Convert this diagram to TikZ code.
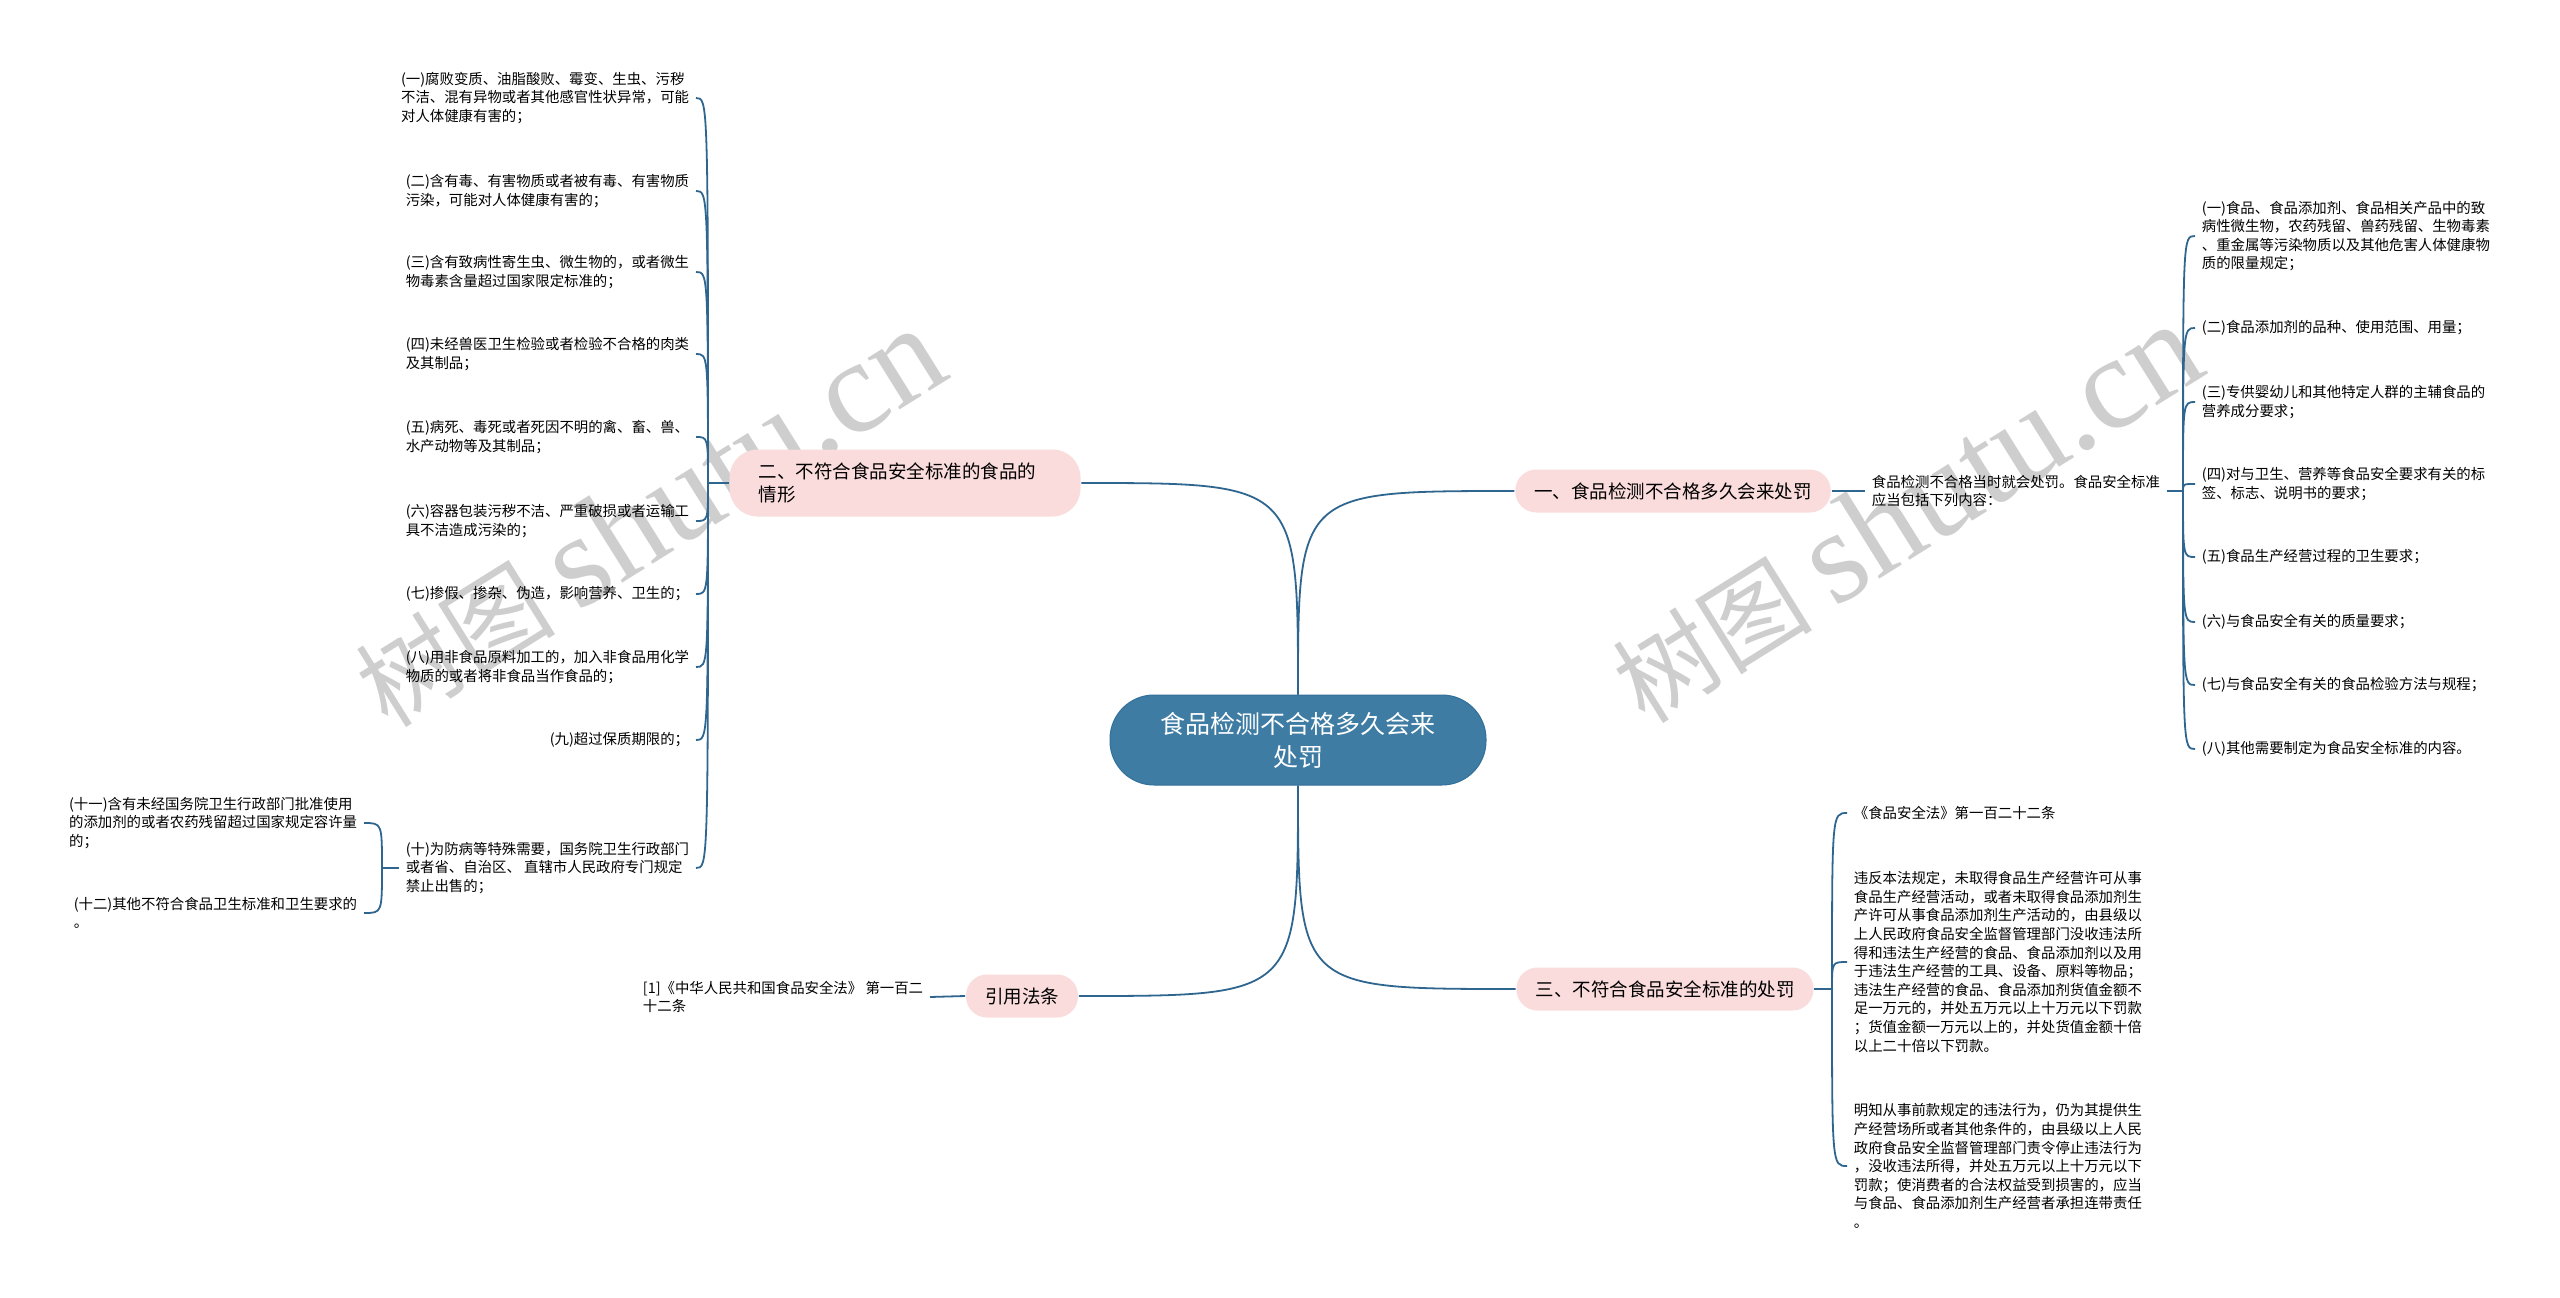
\documentclass[tikz,border=0pt]{standalone}
\usepackage{fontspec}
\setmainfont{Noto Sans CJK SC}
\newfontfamily\marklatin{Liberation Serif}
\usepackage{xcolor}
\definecolor{rootblue}{HTML}{3E7CA4}
\definecolor{rootedge}{HTML}{33709A}
\definecolor{topicpink}{HTML}{FADCDC}
\definecolor{linkblue}{HTML}{2F6690}
\definecolor{markgray}{HTML}{CECECE}

\begin{document}
\begin{tikzpicture}[x=1pt,y=-1pt,line width=1.8pt,
  rootbox/.style={fill=rootblue,draw=rootedge,line width=1pt,text=white,
    rounded corners=44pt,minimum width=376pt,minimum height=90pt,
    align=center,font=\fontsize{25}{33}\selectfont},
  topicbox/.style={fill=topicpink,rounded corners=21pt,minimum height=43pt,
    inner xsep=19pt,font=\fontsize{18.5}{23}\selectfont},
  leafbox/.style={inner xsep=6pt,inner ysep=3pt,align=left,
    font=\fontsize{14.4}{18.6}\selectfont},
  markbox/.style={rotate=32,text=markgray,font=\fontsize{100}{100}\selectfont},
  link/.style={draw=linkblue}
]
  \path[use as bounding box,fill=white] (0,0) rectangle (2560,1298);
  \node[markbox] (mark1) at (649,518) {树图 {\marklatin\fontsize{132}{132}\selectfont shutu.cn}};
  \node[markbox] (mark2) at (1906,514) {树图 {\marklatin\fontsize{132}{132}\selectfont shutu.cn}};

  \node[rootbox] (root) at (1298,740) {食品检测不合格多久会来\\处罚};

  \node[topicbox] (t1) at (1673,491) {一、食品检测不合格多久会来处罚};
  \node[topicbox,text width=293pt,inner xsep=29pt,minimum height=67pt,
    rounded corners=28pt,align=left] (t2) at (905,483) {二、不符合食品安全标准的食品的\\情形};
  \node[topicbox] (t3) at (1665,989) {三、不符合食品安全标准的处罚};
  \node[topicbox] (t4) at (1022,996) {引用法条};

  \draw[link] (root.north) .. controls (root.north |- t1.west) .. (t1.west);
  \draw[link] (root.north) .. controls (root.north |- t2.east) .. (t2.east);
  \draw[link] (root.south) .. controls (root.south |- t3.west) .. (t3.west);
  \draw[link] (root.south) .. controls (root.south |- t4.east) .. (t4.east);

  \node[leafbox,anchor=west] (r0) at (1865,491) {食品检测不合格当时就会处罚。食品安全标准\\应当包括下列内容：};
  \coordinate (jr) at (2183,491);
  \draw[link] (t1.east) -- (r0.west);
  \draw[link] (r0.east) -- (jr);
  \node[leafbox,anchor=west] (r1) at (2195,236) {(一)食品、食品添加剂、食品相关产品中的致\\病性微生物，农药残留、兽药残留、生物毒素\\、重金属等污染物质以及其他危害人体健康物\\质的限量规定；};
  \node[leafbox,anchor=west] (r2) at (2195,328) {(二)食品添加剂的品种、使用范围、用量；};
  \node[leafbox,anchor=west] (r3) at (2195,402) {(三)专供婴幼儿和其他特定人群的主辅食品的\\营养成分要求；};
  \node[leafbox,anchor=west] (r4) at (2195,484) {(四)对与卫生、营养等食品安全要求有关的标\\签、标志、说明书的要求；};
  \node[leafbox,anchor=west] (r5) at (2195,557) {(五)食品生产经营过程的卫生要求；};
  \node[leafbox,anchor=west] (r6) at (2195,622) {(六)与食品安全有关的质量要求；};
  \node[leafbox,anchor=west] (r7) at (2195,685) {(七)与食品安全有关的食品检验方法与规程；};
  \node[leafbox,anchor=west] (r8) at (2195,749) {(八)其他需要制定为食品安全标准的内容。};
  \foreach \i in {1,...,8}
    \draw[link] (jr) .. controls (jr |- r\i.west) .. (r\i.west);

  \coordinate (jl) at (708,483);
  \draw[link] (t2.west) -- (jl);
  \node[leafbox,anchor=east] (l1) at (696,98) {(一)腐败变质、油脂酸败、霉变、生虫、污秽\\不洁、混有异物或者其他感官性状异常，可能\\对人体健康有害的；};
  \node[leafbox,anchor=east] (l2) at (696,191) {(二)含有毒、有害物质或者被有毒、有害物质\\污染，可能对人体健康有害的；};
  \node[leafbox,anchor=east] (l3) at (696,272) {(三)含有致病性寄生虫、微生物的，或者微生\\物毒素含量超过国家限定标准的；};
  \node[leafbox,anchor=east] (l4) at (696,354) {(四)未经兽医卫生检验或者检验不合格的肉类\\及其制品；};
  \node[leafbox,anchor=east] (l5) at (696,437) {(五)病死、毒死或者死因不明的禽、畜、兽、\\水产动物等及其制品；};
  \node[leafbox,anchor=east] (l6) at (696,521) {(六)容器包装污秽不洁、严重破损或者运输工\\具不洁造成污染的；};
  \node[leafbox,anchor=east] (l7) at (696,594) {(七)掺假、掺杂、伪造，影响营养、卫生的；};
  \node[leafbox,anchor=east] (l8) at (696,667) {(八)用非食品原料加工的，加入非食品用化学\\物质的或者将非食品当作食品的；};
  \node[leafbox,anchor=east] (l9) at (696,740) {(九)超过保质期限的；};
  \node[leafbox,anchor=east] (l10) at (696,868) {(十)为防病等特殊需要，国务院卫生行政部门\\或者省、自治区、 直辖市人民政府专门规定\\禁止出售的；};
  \foreach \i in {1,...,10}
    \draw[link] (jl) .. controls (jl |- l\i.east) .. (l\i.east);

  \coordinate (js) at (382,868);
  \draw[link] (l10.west) -- (js);
  \node[leafbox,anchor=east] (s1) at (364,823) {(十一)含有未经国务院卫生行政部门批准使用\\的添加剂的或者农药残留超过国家规定容许量\\的；};
  \node[leafbox,anchor=east] (s2) at (364,913) {(十二)其他不符合食品卫生标准和卫生要求的\\。};
  \foreach \i in {1,2}
    \draw[link] (js) .. controls (js |- s\i.east) .. (s\i.east);

  \node[leafbox,anchor=east] (c1) at (930,997) {[1]《中华人民共和国食品安全法》 第一百二\\十二条};
  \draw[link] (t4.west) -- (c1.east);

  \coordinate (j3) at (1832,989);
  \draw[link] (t3.east) -- (j3);
  \node[leafbox,anchor=west] (p1) at (1847,813) {《食品安全法》第一百二十二条};
  \node[leafbox,anchor=west] (p2) at (1847,962) {违反本法规定，未取得食品生产经营许可从事\\食品生产经营活动，或者未取得食品添加剂生\\产许可从事食品添加剂生产活动的，由县级以\\上人民政府食品安全监督管理部门没收违法所\\得和违法生产经营的食品、食品添加剂以及用\\于违法生产经营的工具、设备、原料等物品；\\违法生产经营的食品、食品添加剂货值金额不\\足一万元的，并处五万元以上十万元以下罚款\\；货值金额一万元以上的，并处货值金额十倍\\以上二十倍以下罚款。};
  \node[leafbox,anchor=west] (p3) at (1847,1166) {明知从事前款规定的违法行为，仍为其提供生\\产经营场所或者其他条件的，由县级以上人民\\政府食品安全监督管理部门责令停止违法行为\\，没收违法所得，并处五万元以上十万元以下\\罚款；使消费者的合法权益受到损害的，应当\\与食品、食品添加剂生产经营者承担连带责任\\。};
  \foreach \i in {1,2,3}
    \draw[link] (j3) .. controls (j3 |- p\i.west) .. (p\i.west);
\end{tikzpicture}
\end{document}
